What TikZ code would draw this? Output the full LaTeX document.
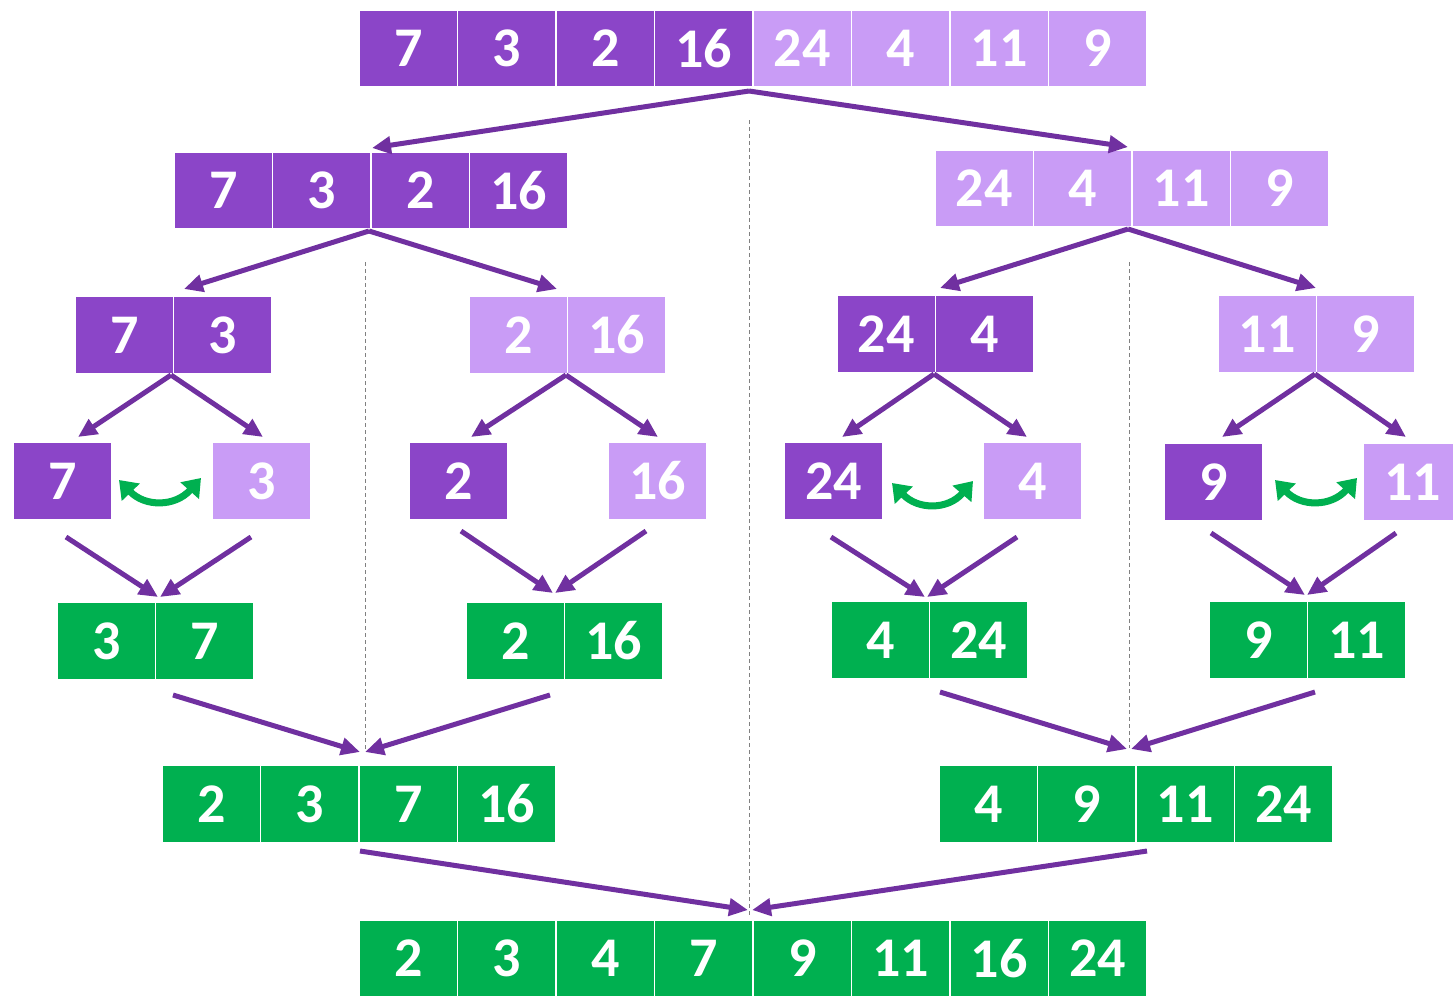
\documentclass[tikz,border=0pt]{standalone}
\usepackage{fontspec}
\setmainfont{Carlito}
\usetikzlibrary{arrows.meta}
\definecolor{dp}{HTML}{8B45C8}
\definecolor{lp}{HTML}{C99CF6}
\definecolor{gr}{HTML}{00B050}
\definecolor{ar}{HTML}{7030A0}
\definecolor{dv}{HTML}{808080}
\tikzset{
 cellbox/.style={minimum width=98.5pt, minimum height=77pt, inner sep=0pt, draw=white, line width=1.2pt, text=white, font=\fontsize{56}{64}\selectfont\bfseries},
 dcell/.style={cellbox, fill=dp},
 lcell/.style={cellbox, fill=lp},
 gcell/.style={cellbox, fill=gr},
 link/.style={draw=ar, line width=5pt, -{Triangle[length=19pt,width=17pt]}},
 swaparrow/.style={draw=gr, line width=7pt, {Triangle[length=17pt,width=24pt]}-{Triangle[length=17pt,width=24pt]}},
 divider/.style={draw=dv, line width=0.8pt, dash pattern=on 4pt off 3pt}
}
\newcommand\cellrow[4]{\foreach[count=\i] \s/\t in {#4} {\node[\s] (#1\i) at ({#2+49.25+98.5*(\i-1)},#3) {\t};}}
\begin{document}
\begin{tikzpicture}[x=1pt,y=-1pt]
\useasboundingbox (0,0) rectangle (1453,996);
\clip (0,0) rectangle (1453,996);
% dividers
\coordinate (v1t) at (749,120); \coordinate (v1b) at (749,915);
\coordinate (v2t) at (365,262); \coordinate (v2b) at (365,750);
\coordinate (v3t) at (1129,262); \coordinate (v3b) at (1129,748);
\draw[divider] (v1t) -- (v1b);
\draw[divider] (v2t) -- (v2b);
\draw[divider] (v3t) -- (v3b);
% rows
\cellrow{a}{359}{48.5}{dcell/7,dcell/3,dcell/2,dcell/16,lcell/24,lcell/4,lcell/11,lcell/9}
\cellrow{bl}{174}{190.5}{dcell/7,dcell/3,dcell/2,dcell/16}
\cellrow{br}{935}{188.5}{lcell/24,lcell/4,lcell/11,lcell/9}
\cellrow{ca}{75}{335}{dcell/7,dcell/3}
\cellrow{cb}{469}{335}{lcell/2,lcell/16}
\cellrow{cc}{837}{334}{dcell/24,dcell/4}
\cellrow{cd}{1218}{334}{lcell/11,lcell/9}
\node[dcell] (d1) at (62.5,481) {7};
\node[lcell] (d2) at (261.5,481) {3};
\node[dcell] (d3) at (458.5,481) {2};
\node[lcell] (d4) at (657.5,481) {16};
\node[dcell] (d5) at (833.5,481) {24};
\node[lcell] (d6) at (1032.5,481) {4};
\node[dcell] (d7) at (1213.5,482) {9};
\node[lcell] (d8) at (1412.5,482) {11};
\cellrow{ea}{57}{641}{gcell/3,gcell/7}
\cellrow{eb}{466}{641}{gcell/2,gcell/16}
\cellrow{ec}{831}{640}{gcell/4,gcell/24}
\cellrow{ed}{1209}{640}{gcell/9,gcell/11}
\cellrow{fl}{162}{804}{gcell/2,gcell/3,gcell/7,gcell/16}
\cellrow{fr}{939}{804}{gcell/4,gcell/9,gcell/11,gcell/24}
\cellrow{g}{359}{958.5}{gcell/2,gcell/3,gcell/4,gcell/7,gcell/9,gcell/11,gcell/16,gcell/24}
% connector points
\coordinate (s1) at (749,91);
\coordinate (t1l) at (372,148); \coordinate (t1r) at (1128,147);
\coordinate (s2l) at (369,231); \coordinate (t2a) at (184,289); \coordinate (t2b) at (557,289);
\coordinate (s2r) at (1128,229); \coordinate (t2c) at (940,288); \coordinate (t2d) at (1316,288);
\coordinate (s3a) at (171,375); \coordinate (t3a1) at (78,437); \coordinate (t3a2) at (263,437);
\coordinate (s3b) at (566,375); \coordinate (t3b1) at (471,437); \coordinate (t3b2) at (658,437);
\coordinate (s3c) at (934,374); \coordinate (t3c1) at (842,437); \coordinate (t3c2) at (1027,437);
\coordinate (s3d) at (1315,374); \coordinate (t3d1) at (1222,437); \coordinate (t3d2) at (1406,437);
\coordinate (s4a) at (66,537); \coordinate (s4b) at (251,537); \coordinate (t4ab1) at (158,597); \coordinate (t4ab2) at (160,597);
\coordinate (s4c) at (461,531); \coordinate (s4d) at (646,531); \coordinate (t4cd1) at (553,593); \coordinate (t4cd2) at (555,593);
\coordinate (s4e) at (831,537); \coordinate (s4f) at (1017,537); \coordinate (t4ef1) at (925,597); \coordinate (t4ef2) at (927,597);
\coordinate (s4g) at (1211,533); \coordinate (s4h) at (1396,533); \coordinate (t4gh1) at (1305,595); \coordinate (t4gh2) at (1307,595);
\coordinate (s5a) at (173,695); \coordinate (s5b) at (550,695); \coordinate (t5l1) at (360,752); \coordinate (t5l2) at (365,752);
\coordinate (s5c) at (940,692); \coordinate (s5d) at (1315,692); \coordinate (t5r1) at (1127,749); \coordinate (t5r2) at (1131,749);
\coordinate (s6l) at (360,851); \coordinate (s6r) at (1147,851); \coordinate (t6a) at (748,910); \coordinate (t6b) at (752,910);
% connectors
\draw[link] (s1) -- (t1l); \draw[link] (s1) -- (t1r);
\draw[link] (s2l) -- (t2a); \draw[link] (s2l) -- (t2b);
\draw[link] (s2r) -- (t2c); \draw[link] (s2r) -- (t2d);
\draw[link] (s3a) -- (t3a1); \draw[link] (s3a) -- (t3a2);
\draw[link] (s3b) -- (t3b1); \draw[link] (s3b) -- (t3b2);
\draw[link] (s3c) -- (t3c1); \draw[link] (s3c) -- (t3c2);
\draw[link] (s3d) -- (t3d1); \draw[link] (s3d) -- (t3d2);
\draw[link] (s4a) -- (t4ab1); \draw[link] (s4b) -- (t4ab2);
\draw[link] (s4c) -- (t4cd1); \draw[link] (s4d) -- (t4cd2);
\draw[link] (s4e) -- (t4ef1); \draw[link] (s4f) -- (t4ef2);
\draw[link] (s4g) -- (t4gh1); \draw[link] (s4h) -- (t4gh2);
\draw[link] (s5a) -- (t5l1); \draw[link] (s5b) -- (t5l2);
\draw[link] (s5c) -- (t5r1); \draw[link] (s5d) -- (t5r2);
\draw[link] (s6l) -- (t6a); \draw[link] (s6r) -- (t6b);
% swaps
\coordinate (w1a) at (119,480); \coordinate (w1b) at (201,478);
\coordinate (w2a) at (892,483); \coordinate (w2b) at (973,481);
\coordinate (w3a) at (1275,480); \coordinate (w3b) at (1357,478);
\draw[swaparrow] (w1a) .. controls (145,507) and (175,507) .. (w1b);
\draw[swaparrow] (w2a) .. controls (918,510) and (948,510) .. (w2b);
\draw[swaparrow] (w3a) .. controls (1301,507) and (1331,507) .. (w3b);
\end{tikzpicture}
\end{document}
